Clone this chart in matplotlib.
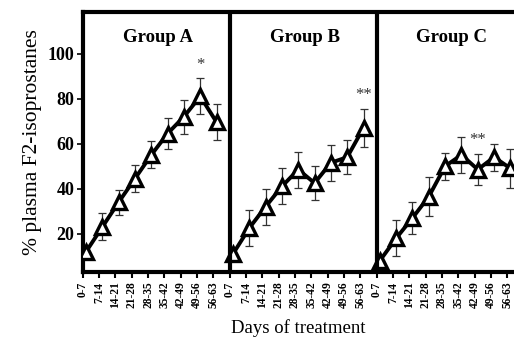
import numpy as np
import matplotlib
matplotlib.use("Agg")
from matplotlib import pyplot as plt

plt.rcParams['font.family'] = ['Liberation Serif', 'DejaVu Serif']

periods = ['0-7', '7-14', '14-21', '21-28', '28-35', '35-42', '42-49', '49-56', '56-63']
groups = ['Group A', 'Group B', 'Group C']

group_a = [12, 23, 34, 44.5, 55, 64.5, 72, 81, 69.5]
group_b = [11, 22.5, 32, 41, 48.5, 42.5, 51.5, 54, 67]
group_c = [8, 18, 27, 36.5, 50, 55, 48.5, 54, 49]

err_a = [0, 6, 5.5, 6, 6, 7, 7.5, 8, 8]
err_b = [0, 8, 8, 8, 8, 7.5, 8, 7.5, 8.5]
err_c = [0, 8, 7, 8.5, 6, 8, 7, 6, 8.5]

stars = ['*', '**', '**']
star_idx = [7, 8, 6]

fig = plt.figure(figsize=(5.14, 3.4), dpi=100)
ax = fig.add_axes([0.161, 0.2, 0.84, 0.765])

series = [group_a, group_b, group_c]
errs = [err_a, err_b, err_c]
labels = []
for g in range(3):
    x = np.arange(9) + 9 * g + 0.2
    y = np.array(series[g])
    ax.errorbar(x, y, yerr=errs[g], fmt='none', ecolor='#333333',
                elinewidth=0.9, capsize=3, capthick=0.9, zorder=2)
    ax.plot(x, y, color='black', lw=2.8, zorder=3)
    ax.plot(x, y, ls='none', marker='^', ms=9.5, mfc='white', mec='black',
            mew=2.4, zorder=4)
    si = star_idx[g]
    ax.text(x[si], y[si] + errs[g][si] + 2.5, stars[g], ha='center',
            va='bottom', fontsize=12, color='#333333')
    ax.text(9 * g + 4.6, 107, groups[g], ha='center', va='center',
            fontsize=13.5, fontweight='bold')
    labels += periods

for sep in [9, 18]:
    ax.axvline(sep, color='black', lw=3, zorder=5)

ax.set_xlim(0, 26.45)
ax.set_ylim(3, 118.5)
ax.set_xticks(np.arange(27))
ax.set_xticklabels(labels, rotation=90, fontsize=8.3, fontweight='bold')
ax.set_yticks([20, 40, 60, 80, 100])
ax.set_yticklabels(['20', '40', '60', '80', '100'], fontsize=13, fontweight='bold')
ax.tick_params(axis='x', length=4, width=1.5, pad=3)
ax.tick_params(axis='y', length=4, width=1.2, pad=2)
for side in ['left', 'top', 'bottom']:
    ax.spines[side].set_linewidth(3)
ax.spines['right'].set_visible(False)

ax.set_ylabel('% plasma F2-isoprostanes', fontsize=15.5, labelpad=4)
ax.set_xlabel('Days of treatment', fontsize=13.5, labelpad=8)

fig.savefig('out.png', dpi=100)
